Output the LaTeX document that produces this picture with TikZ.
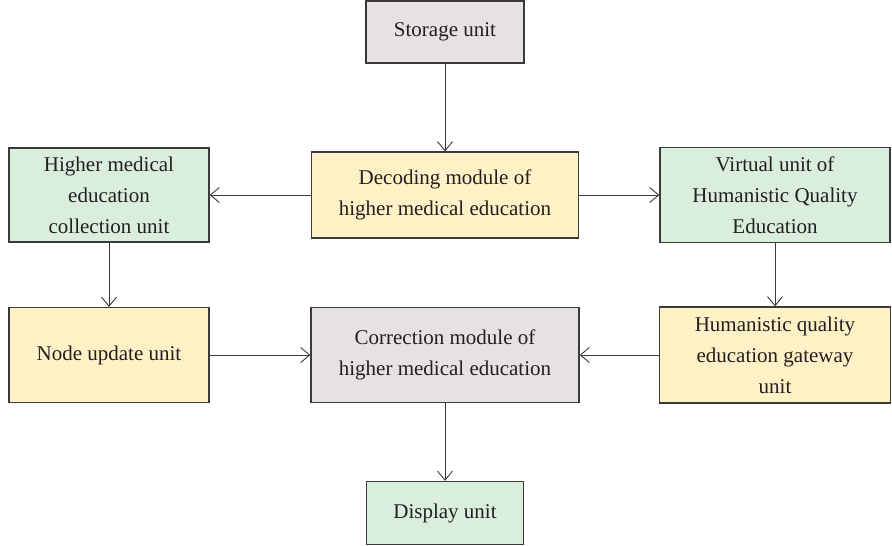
\documentclass[tikz,border=0pt]{standalone}
\usepackage{fontspec}
\setmainfont{Liberation Serif}
\usetikzlibrary{arrows.meta}
\definecolor{boxGray}{HTML}{E6E2E2}
\definecolor{boxYellow}{HTML}{FFF1C6}
\definecolor{boxGreen}{HTML}{DAEEDD}
\definecolor{lineGray}{HTML}{3A3A3A}
\definecolor{textGray}{HTML}{231F20}

\begin{document}
\begin{tikzpicture}
  [x=1pt, y=-1pt,
    font=\fontsize{21}{31}\selectfont,
    Unit/.style={rectangle, draw=lineGray, line width=1.3pt, text=textGray, align=center, inner sep=2pt},
    GrayUnit/.style={Unit, fill=boxGray},
    YellowUnit/.style={Unit, fill=boxYellow},
    GreenUnit/.style={Unit, fill=boxGreen},
    Flow/.style={draw=lineGray, line width=0.9pt, -{Straight Barb[length=9pt, width=15pt]}}]
  \useasboundingbox (0,0) rectangle (892,546);
  % top row
  \node [GrayUnit, minimum width=158pt, minimum height=62pt] (storage) at (445,32) {Storage unit};
  \node [YellowUnit, minimum width=267pt, minimum height=86pt] (decoding) at (445,195) {Decoding module of\\higher medical education};
  \node [GreenUnit, minimum width=200pt, minimum height=94pt] (collection) at (109,195) {Higher medical\\education\\collection unit};
  \node [GreenUnit, minimum width=230pt, minimum height=95pt] (virtual) at (775,195) {Virtual unit of\\Humanistic Quality\\Education};
  % middle row
  \node [YellowUnit, minimum width=200pt, minimum height=95pt] (update) at (109,355) {Node update unit};
  \node [GrayUnit, minimum width=268pt, minimum height=95pt] (correction) at (445,355) {Correction module of\\higher medical education};
  \node [YellowUnit, minimum width=231pt, minimum height=96pt] (gateway) at (775,355) {Humanistic quality\\education gateway\\unit};
  % bottom
  \node [GreenUnit, minimum width=157pt, minimum height=63pt] (display) at (445,513) {Display unit};
  % connectors
  \draw [Flow] (storage) -- (decoding);
  \draw [Flow] (decoding) -- (collection);
  \draw [Flow] (decoding) -- (virtual);
  \draw [Flow] (collection) -- (update);
  \draw [Flow] (virtual) -- (gateway);
  \draw [Flow] (update) -- (correction);
  \draw [Flow] (gateway) -- (correction);
  \draw [Flow] (correction) -- (display);
\end{tikzpicture}
\end{document}
